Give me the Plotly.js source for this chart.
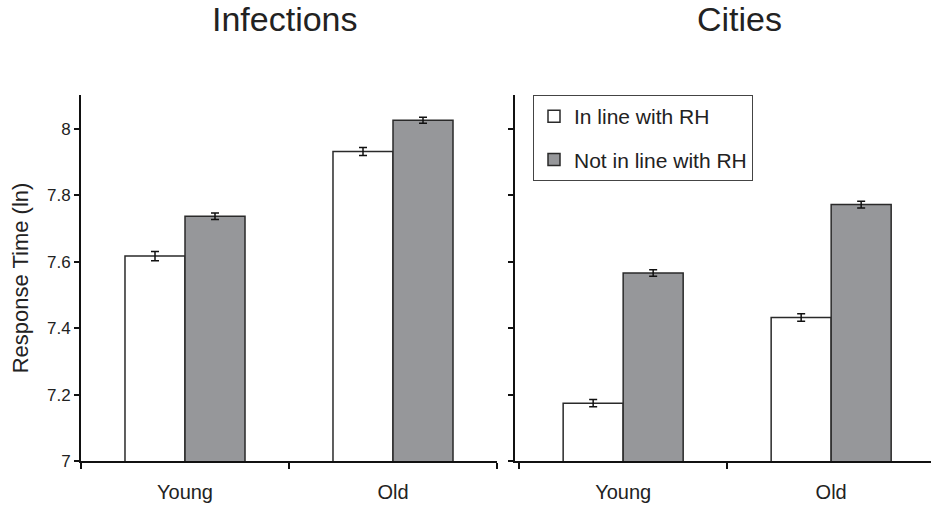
<!DOCTYPE html>
<html>
<head>
<meta charset="utf-8">
<script src="https://cdn.plot.ly/plotly-3.0.1.min.js"></script>
<style>html,body{margin:0;padding:0;background:#fff;}#chart{width:931px;height:506px;}</style>
</head>
<body>
<div id="chart"></div>
<script>
const categories = ["Young", "Old"];
const seriesNames = ["In line with RH", "Not in line with RH"];
const panelTitles = ["Infections", "Cities"];
const infectionsInLine = [7.617, 7.932];
const infectionsNotInLine = [7.737, 8.026];
const infectionsInLineErr = [0.014, 0.012];
const infectionsNotInLineErr = [0.010, 0.009];
const citiesInLine = [7.174, 7.432];
const citiesNotInLine = [7.566, 7.772];
const citiesInLineErr = [0.011, 0.011];
const citiesNotInLineErr = [0.010, 0.010];
const yTickVals = [7, 7.2, 7.4, 7.6, 7.8, 8];
const yTickText = ["7", "7.2", "7.4", "7.6", "7.8", "8"];

const FONT = "Liberation Sans, Arial, sans-serif";
const whiteFill = "#ffffff";
const greyFill = "#96979a";
const outline = {color: "#2a2a2a", width: 1.5};
function err(arr){return {type:"data", array:arr, visible:true, color:"#111", thickness:1.5, width:4};}

const traces = [
  {type:"bar", x:categories, y:infectionsInLine, name:seriesNames[0], xaxis:"x", yaxis:"y",
   marker:{color:whiteFill, line:outline}, error_y:err(infectionsInLineErr), showlegend:true, legendgroup:"a"},
  {type:"bar", x:categories, y:infectionsNotInLine, name:seriesNames[1], xaxis:"x", yaxis:"y",
   marker:{color:greyFill, line:outline}, error_y:err(infectionsNotInLineErr), showlegend:true, legendgroup:"b"},
  {type:"bar", x:categories, y:citiesInLine, name:seriesNames[0], xaxis:"x2", yaxis:"y2",
   marker:{color:whiteFill, line:outline}, error_y:err(citiesInLineErr), showlegend:false, legendgroup:"a"},
  {type:"bar", x:categories, y:citiesNotInLine, name:seriesNames[1], xaxis:"x2", yaxis:"y2",
   marker:{color:greyFill, line:outline}, error_y:err(citiesNotInLineErr), showlegend:false, legendgroup:"b"}
];

const yDom = [45/506, 411/506];
const yRange = [7, 8.102];
const xCommon = {type:"category", tickson:"boundaries", ticks:"outside", ticklen:6, tickwidth:2, tickcolor:"#111",
  showline:true, linecolor:"#111", linewidth:2, showgrid:false, zeroline:false, fixedrange:true,
  ticklabelstandoff:12,
  tickfont:{family:FONT, size:20, color:"#222"}};
const yCommon = {range:yRange, tickmode:"array", tickvals:yTickVals, ticks:"outside", ticklen:5, tickwidth:2,
  tickcolor:"#111", showline:true, linecolor:"#111", linewidth:2, showgrid:false, zeroline:false, domain:yDom,
  tickfont:{family:FONT, size:17, color:"#222"}};

const layout = {
  width:931, height:506, margin:{l:0, r:0, t:0, b:0}, paper_bgcolor:"#fff", plot_bgcolor:"#fff",
  barmode:"group", bargap:0.423, bargroupgap:0,
  font:{family:FONT, color:"#222"},
  xaxis:Object.assign({}, xCommon, {domain:[81/931, 497/931], range:[-0.5, 1.5], anchor:"y"}),
  yaxis:Object.assign({}, yCommon, {ticktext:yTickText, anchor:"x",
    title:{text:"Response Time (ln)", font:{family:FONT, size:22, color:"#222"}, standoff:12}}),
  xaxis2:Object.assign({}, xCommon, {domain:[515/931, 1], range:[-0.52, 1.48], anchor:"y2"}),
  yaxis2:Object.assign({}, yCommon, {ticktext:yTickText, showticklabels:false, anchor:"x2"}),
  legend:{x:533/931, y:411/506, xanchor:"left", yanchor:"top", bordercolor:"#444", borderwidth:1,
    bgcolor:"#fff", font:{family:FONT, size:21, color:"#222"}, traceorder:"grouped", tracegroupgap:13, itemwidth:30},
  annotations:[
    {text:panelTitles[0], xref:"paper", yref:"paper", x:285/931, y:(506-19)/506, xanchor:"center", yanchor:"middle",
     showarrow:false, font:{family:FONT, size:34, color:"#222"}},
    {text:panelTitles[1], xref:"paper", yref:"paper", x:739/931, y:(506-19)/506, xanchor:"center", yanchor:"middle",
     showarrow:false, font:{family:FONT, size:34, color:"#222"}}
  ]
};

Plotly.newPlot("chart", traces, layout, {staticPlot:true, displayModeBar:false});
</script>
</body>
</html>
